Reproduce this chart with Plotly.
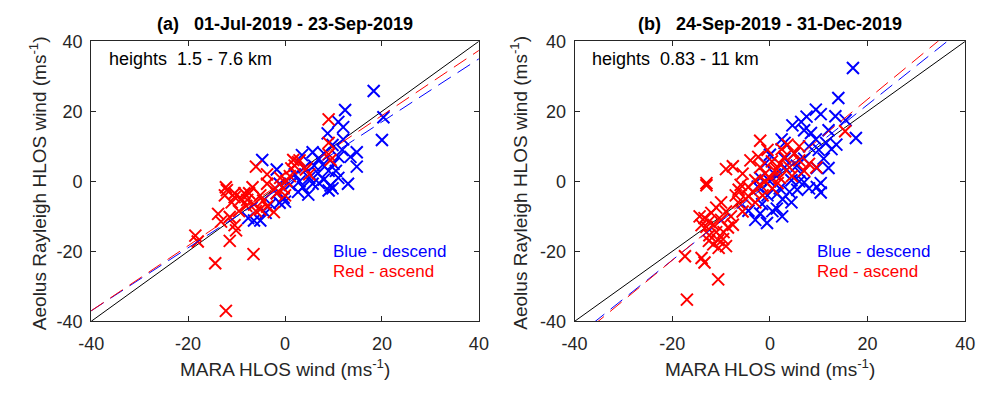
import plotly.graph_objects as go

# ---------------- data ----------------
a_blue_x = [18.3, 20.3, 20, 12.4, 11, 12, 14.8, 14.8, 8.8, 5.7, 7, 11, 13, 9.4, 9.8, 5.7, -4.7, -1.7, -1.1, 3.7,
            6.8, 9.8, 11.8, 7.8, -0.3, 2.7, 9, -6.4, -5.1, -7.6, -1.1, 0, -1.7, 8, 10, 11, 4, 3, 6, 9,
            12, 8, 5, 1, 2, 7, 10.5, 3.5, 13.5, 4.8, -3, -4]
a_blue_y = [25.8, 18.3, 11.8, 20.4, 17, 15.5, 8.3, 4.2, 13.7, 8.3, 6.4, 1, -0.7, -1.2, -2, -0.7, 6.1, 3.4, -0.7, -1.7,
            2.3, 10.4, 9, 4.7, -4.7, -3, -2.6, -11.2, -11.2, -10.5, -6.1, -5.8, -3.4, 0.5, 5, 7, 4, 0, 4.5, 3,
            12, 8, 1, -1, 2, -0.5, 3, 7.5, 7, -3.8, -6.5, -9]
a_red_x = [-12.2, -14.4, -6.5, -11.4, -18.5, -18, -13.8, -13.2, -10.4, -10.1, -11.4, -12.4, -10.4, -7.8, -6.4, -5.1,
           -3.7, -2.3, -6, -8.4, 9, -6, -12.2, -10.4, -6.7, -7.4, -3.7, 1.7, 2.7, 1.3, 4.3, 9, 9.4, 9, -0.3, 0.3,
           -1.7, -5.1, -3.7, 3, 5, 0, -2, -9, -8, -11, -4.5, 1, 2, -1, -12, -9.5]
a_red_y = [-37, -23.4, -20.8, -17, -15.5, -17.2, -9.3, -11.5, -12.5, -14, -10.2, -4, -4.5, -5.3, -6.6, -8,
           -7.2, -8.8, -8.5, -3.4, 17.7, 4.2, -1.7, -3.4, -1.7, -3.4, 2, 6.1, 5.5, 3.7, 3.4, 11, 6.1, 7.7, -2, 0.1,
           -3.4, -4, -0.7, 6, 2, -4, -2, -5, -7, -6, -5.5, 1.5, 4.5, 1, -2.5, -8.5]

b_blue_x = [17, 14, 9.4, 10.4, 13.4, 17.6, 15.5, 4.6, 6.4, 7, 8.4, 12, 9.4, 13.6, 12.6, 2.4, 3, 11, 12, 9.6,
            10.4, 7, 6.4, 4.4, -1, 0, 9.6, 10.4, -3, -0.6, -2, 1.4, 2.6, 4.4, -1.6, -4.4, 5.6, 7, 1, 3,
            5, 8, 6, 2, 0, -2, 8, 1.5, 4, -0.5, 3, 5.5, 10, 11.5, 7.5, -2.5, 2.5, 0.5]
b_blue_y = [32.4, 23.8, 20.5, 19.2, 18.6, 12.4, 17.5, 16, 17, 14.6, 13.8, 14.6, 12, 10.5, 9.2, 12, 11, 6.5, 3.8, 3.8,
            -0.5, 6.5, 2.2, 0.3, 5.1, 7.6, -1.6, -3.2, -11, -11.9, -9.2, -7.8, -5.1, -6, -6.5, -8.4, -2.4, -0.3, 2, 4,
            8, 10, 0, -2, 0, 1, -2, -3.5, -3, -4, 6.5, 4.5, 9, 11, 18.5, -1.5, -10, -8.5]
b_red_x = [-17, -10.6, -17.4, -14, -13.4, -13, -14.4, -13.4, -12.4, -10.6, -9.6, -11.6, -9, -8.6, -7.6, -11.6,
           -5.6, -4.4, -6.4, -2, -2.4, 3.6, 2.4, -7.6, -9, -13, -5.6, 0.4, -1, 15.4, 1.4, -3, -4.4, 1.6,
           -12, -10, -13, -11, -9.5, -12.5, -8, -6.5, -5, -3.5, -2, -1, 0, 1, 2, 3, 4, 5, 6, 7, 8, 2,
           -2, -4, -6, -3, -1.5, 0.5, -7, -10, -11, -12.5, -14, -9, -10.5, 4.5, 6, 9.5, -0.5]
b_red_y = [-33.8, -28, -21.4, -21.9, -23.2, -1.1, -10, -10.5, -15.4, -16.8, -16.5, -18, -8.6, -13.2, -12.4, -12.4,
           -8.6, -4.3, -2.4, 11.6, 7, 10.5, 9.2, 4.3, 3.5, -0.5, 2.2, 5.7, 2.2, 14.3, 3.5, 0.3, -1.6, -0.5,
           -9, -11, -13, -14.5, -14.5, -17, -10, -6, -5, -3, -1, 0, 1, 3, 5, 7, 4, 8, 6, 3, 5, 1,
           4, 6, -1, -6, -4, -2, -4, -6, -7.5, -11.5, -12.5, -18.5, -19, 1.5, 10, 4, 9]

# regression fits (slope, intercept)
a_blue_fit = (0.90, -1.0)
a_red_fit = (0.93, 0.2)
b_blue_fit = (1.11, -0.3)
b_red_fit = (1.15, 0.45)

axis_lim = [-40, 40]
tick_vals = [-40, -20, 0, 20, 40]
tick_text = ["-40", "-20", "0", "20", "40"]

titles = ["(a)\u00a0\u00a0\u00a001-Jul-2019 - 23-Sep-2019", "(b)\u00a0\u00a0\u00a024-Sep-2019 - 31-Dec-2019"]
heights = ["heights\u00a0\u00a01.5 - 7.6 km", "heights\u00a0\u00a00.83 - 11 km"]

# ---------------- figure ----------------
W, H = 987, 394
FONT = "Liberation Sans, Arial, Helvetica, sans-serif"
BLUE = "#0000ff"
RED = "#ff0000"
AX = "#262626"

fig = go.Figure()

panels = [
    (a_blue_x, a_blue_y, a_red_x, a_red_y, a_blue_fit, a_red_fit, "x", "y"),
    (b_blue_x, b_blue_y, b_red_x, b_red_y, b_blue_fit, b_red_fit, "x2", "y2"),
]

for bx, by, rx, ry, bf, rf, xa, ya in panels:
    fig.add_trace(go.Scatter(x=axis_lim, y=axis_lim, mode="lines",
                             line=dict(color="black", width=1), xaxis=xa, yaxis=ya, showlegend=False))
    fig.add_trace(go.Scatter(x=bx, y=by, mode="markers",
                             marker=dict(symbol="x-thin", size=12, line=dict(color=BLUE, width=2)),
                             xaxis=xa, yaxis=ya, showlegend=False, cliponaxis=True))
    fig.add_trace(go.Scatter(x=rx, y=ry, mode="markers",
                             marker=dict(symbol="x-thin", size=12, line=dict(color=RED, width=2)),
                             xaxis=xa, yaxis=ya, showlegend=False, cliponaxis=True))
    fig.add_trace(go.Scatter(x=axis_lim, y=[bf[0] * v + bf[1] for v in axis_lim], mode="lines",
                             line=dict(color=BLUE, width=1, dash="15px,8px"), xaxis=xa, yaxis=ya, showlegend=False))
    fig.add_trace(go.Scatter(x=axis_lim, y=[rf[0] * v + rf[1] for v in axis_lim], mode="lines",
                             line=dict(color=RED, width=1, dash="15px,8px"), xaxis=xa, yaxis=ya, showlegend=False))

xdom = [[80 / W, 477 / W], [575 / W, 975 / W]]
ydom = [1 - 328 / H, 1 - 33 / H]

axis_common = dict(range=axis_lim, tickvals=tick_vals, ticktext=tick_text, ticks="inside", ticklen=5,
                   tickcolor=AX, tickwidth=1, showline=True, linecolor=AX, linewidth=1, mirror="ticks",
                   showgrid=False, zeroline=False, tickfont=dict(family=FONT, size=18, color=AX))

fig.update_layout(
    width=W, height=H, margin=dict(l=0, r=0, t=0, b=0),
    paper_bgcolor="white", plot_bgcolor="white",
    xaxis=dict(domain=xdom[0], anchor="y", ticklabelstandoff=6, **axis_common),
    yaxis=dict(domain=ydom, anchor="x", ticklabelstandoff=4, **axis_common),
    xaxis2=dict(domain=xdom[1], anchor="y2", ticklabelstandoff=6, **axis_common),
    yaxis2=dict(domain=ydom, anchor="x2", ticklabelstandoff=4, **axis_common),
    font=dict(family=FONT),
)

centers = [(80 + 477) / 2, (575 + 975) / 2]
lefts = [80, 575]
ytitle_x = [25, 518]
for i in range(2):
    fig.add_annotation(text="<b>" + titles[i] + "</b>", x=centers[i] / W, y=1 - 15 / H, xref="paper", yref="paper",
                       showarrow=False, font=dict(family=FONT, size=18, color="black"), xanchor="center", yanchor="middle")
    fig.add_annotation(text=heights[i], x=(lefts[i] + 16) / W, y=1 - 52 / H, xref="paper", yref="paper",
                       showarrow=False, font=dict(family=FONT, size=18, color="black"), xanchor="left", yanchor="middle")
    fig.add_annotation(text="Blue - descend", x=(lefts[i] + 247) / W, y=1 - 254 / H, xref="paper", yref="paper",
                       showarrow=False, font=dict(family=FONT, size=17, color=BLUE), xanchor="left", yanchor="middle",
                       borderpad=0)
    fig.add_annotation(text="Red - ascend", x=(lefts[i] + 247) / W, y=1 - 276 / H, xref="paper", yref="paper",
                       showarrow=False, font=dict(family=FONT, size=17, color=RED), xanchor="left", yanchor="middle",
                       borderpad=0)
    fig.add_annotation(text="MARA HLOS wind (ms<sup>-1</sup>)", x=centers[i] / W, y=1 - 377 / H,
                       xref="paper", yref="paper", showarrow=False,
                       font=dict(family=FONT, size=19, color=AX), xanchor="center", yanchor="middle")
    fig.add_annotation(text="Aeolus Rayleigh HLOS wind (ms<sup>-1</sup>)", x=ytitle_x[i] / W, y=(1 - 182 / H),
                       xref="paper", yref="paper", showarrow=False, textangle=-90,
                       font=dict(family=FONT, size=19, color=AX), xanchor="center", yanchor="middle")

fig.write_html("out.html")
